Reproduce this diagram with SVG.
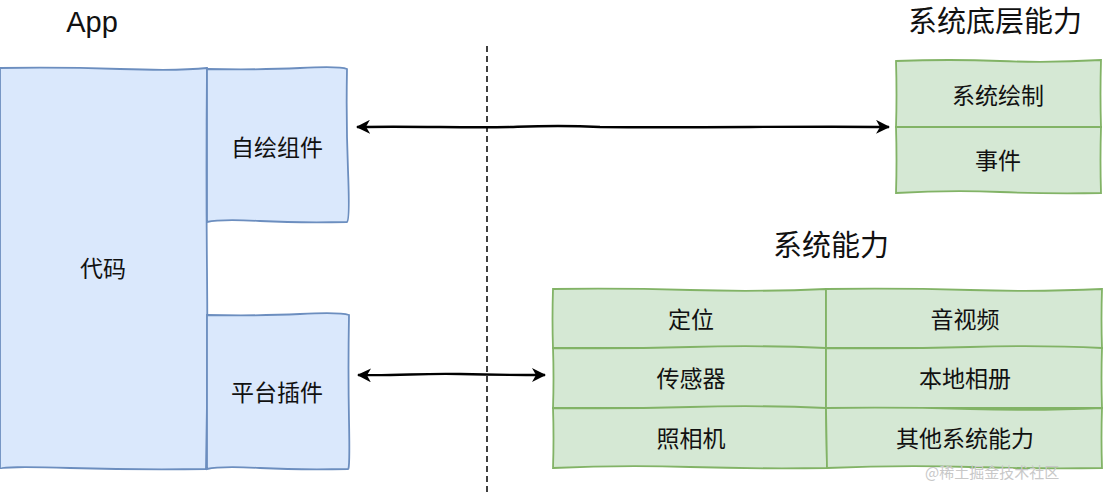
<svg xmlns="http://www.w3.org/2000/svg" width="1104" height="498" viewBox="0 0 1104 498">
<defs>
<style>
.t{font-family:"Liberation Sans","Noto Sans CJK SC",sans-serif;fill:#111;text-anchor:middle;dominant-baseline:central}
.title{font-size:29px}
.cell{font-size:23px}
.blue{fill:#dae8fc;stroke:#6c8ebf;stroke-width:1.8}
.green{fill:#d5e8d4;stroke:#82b366;stroke-width:1.8}
.conn{fill:none;stroke:#000;stroke-width:2.3}
.wm{font-family:"Noto Sans CJK SC",sans-serif;font-size:15px;fill:#c8c8c8;text-anchor:start;dominant-baseline:central}
</style>
<marker id="ah" viewBox="0 0 14 14" refX="13" refY="7" markerWidth="14" markerHeight="14" markerUnits="userSpaceOnUse" orient="auto-start-reverse">
<path d="M0,0 L14,7 L0,14 L4,7 Z" fill="#000"/>
</marker>
</defs>
<rect width="1104" height="498" fill="#fff"/>

<text class="t title" x="92" y="22">App</text>
<text class="t title" x="995" y="22">系统底层能力</text>
<text class="t title" x="831" y="246">系统能力</text>

<g id="code">
<path class="blue" d="M0,68 Q60,67 120,69 T207,68 Q206,170 207,270 T206,469 Q140,470 70,468 T0,469 Z"/>
<text class="t cell" x="103" y="269">代码</text>
</g>
<g id="selfdraw">
<path class="blue" d="M207,69 Q260,70 300,68 T347,69 Q346,120 348,170 T347,222 Q300,223 260,221 T207,222 Z"/>
<text class="t cell" x="277" y="148">自绘组件</text>
</g>
<g id="plugin">
<path class="blue" d="M207,315 Q260,316 300,314 T349,315 Q348,370 349,420 T348,469 Q300,470 260,468 T207,469 Z"/>
<text class="t cell" x="277" y="393">平台插件</text>
</g>

<g id="sys-low">
<path class="green" d="M896,61 Q950,59 1000,61 T1101,60 Q1100,95 1101,127 L896,127 Q897,95 896,61 Z"/>
<text class="t cell" x="998" y="96">系统绘制</text>
<path class="green" d="M896,127 L1101,127 Q1100,160 1101,193 Q1050,194 1000,192 T896,193 Q897,160 896,127 Z"/>
<text class="t cell" x="998" y="161">事件</text>
</g>

<g id="sys-cap">
<path class="green" d="M553,289 Q620,288 690,290 T826,289 L826,348 L553,348 Q552,320 553,289 Z"/>
<text class="t cell" x="691" y="320">定位</text>
<path class="green" d="M826,289 Q900,288 970,290 T1102,289 Q1101,320 1102,348 L826,348 Z"/>
<text class="t cell" x="965" y="320">音视频</text>
<path class="green" d="M553,348 Q620,349 690,347 T826,348 L826,408 L553,408 Q554,378 553,348 Z"/>
<text class="t cell" x="691" y="379">传感器</text>
<path class="green" d="M826,348 Q900,349 970,347 T1102,348 Q1101,378 1102,408 L826,408 Z"/>
<text class="t cell" x="965" y="379">本地相册</text>
<path class="green" d="M553,408 Q620,409 690,407 T826,408 L827,468 Q760,469 690,467 T553,468 Q554,438 553,408 Z"/>
<text class="t cell" x="691" y="439">照相机</text>
<path class="green" d="M826,408 Q900,407 970,409 T1102,408 Q1101,438 1102,468 Q1040,469 970,467 T827,468 Z"/>
<text class="t cell" x="965" y="439">其他系统能力</text>
</g>

<g id="connectors">
<path d="M487,46 L487,495" fill="none" stroke="#000" stroke-width="1.5" stroke-dasharray="6 4"/>
<path class="conn" d="M357,127 C420,126 460,128 510,127 C540,126 560,125 600,127 C700,128 800,126 889,127" marker-start="url(#ah)" marker-end="url(#ah)"/>
<path class="conn" d="M358,375 C400,376 420,373 460,374 C500,375 520,375 545,375" marker-start="url(#ah)" marker-end="url(#ah)"/>
</g>

<text class="wm" x="925" y="471">@稀土掘金技术社区</text>
</svg>
